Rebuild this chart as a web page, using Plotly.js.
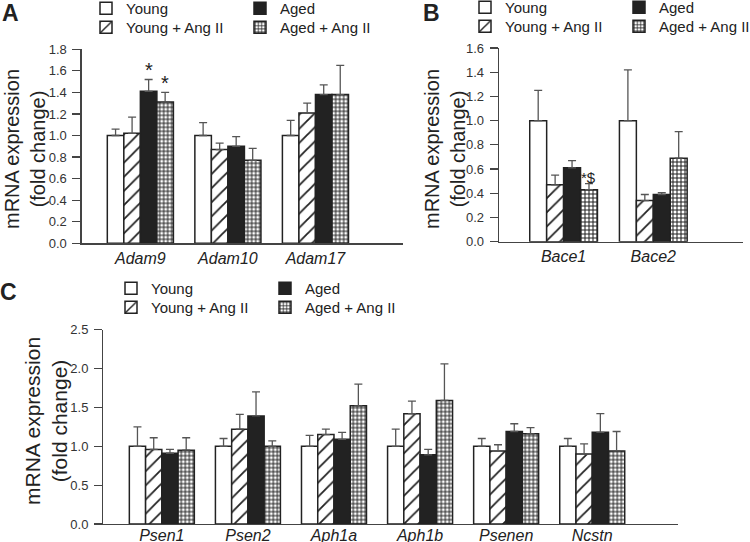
<!DOCTYPE html>
<html>
<head>
<meta charset="utf-8">
<script src="https://cdn.plot.ly/plotly-3.0.1.min.js"></script>
<style>
  html, body { margin: 0; padding: 0; background: #fff; }
  #chart { width: 750px; height: 542px; }
</style>
</head>
<body>
<div id="chart"></div>
<script>
// series names, shared by all three panels
const groups = ['Young', 'Young + Ang II', 'Aged', 'Aged + Ang II'];

// panel A - Adam genes
const adamGenes = ['Adam9', 'Adam10', 'Adam17'];
const adamYoung = [1.00, 1.00, 1.00];
const adamYoungSem = [0.06, 0.12, 0.14];
const adamYoungAng = [1.02, 0.87, 1.21];
const adamYoungAngSem = [0.15, 0.06, 0.09];
const adamAged = [1.41, 0.90, 1.38];
const adamAgedSem = [0.11, 0.09, 0.09];
const adamAgedAng = [1.31, 0.77, 1.38];
const adamAgedAngSem = [0.09, 0.11, 0.27];

// panel B - Bace genes
const baceGenes = ['Bace1', 'Bace2'];
const baceYoung = [1.00, 1.00];
const baceYoungSem = [0.25, 0.42];
const baceYoungAng = [0.47, 0.34];
const baceYoungAngSem = [0.08, 0.05];
const baceAged = [0.61, 0.39];
const baceAgedSem = [0.06, 0.015];
const baceAgedAng = [0.43, 0.69];
const baceAgedAngSem = [0.05, 0.22];

// panel C - gamma secretase genes
const gsGenes = ['Psen1', 'Psen2', 'Aph1a', 'Aph1b', 'Psenen', 'Ncstn'];
const gsYoung = [1.00, 1.00, 1.00, 1.00, 1.00, 1.00];
const gsYoungSem = [0.25, 0.10, 0.14, 0.22, 0.10, 0.10];
const gsYoungAng = [0.96, 1.22, 1.15, 1.42, 0.94, 0.90];
const gsYoungAngSem = [0.15, 0.19, 0.07, 0.16, 0.08, 0.13];
const gsAged = [0.91, 1.39, 1.09, 0.89, 1.19, 1.18];
const gsAgedSem = [0.05, 0.31, 0.09, 0.07, 0.10, 0.24];
const gsAgedAng = [0.95, 1.00, 1.52, 1.59, 1.16, 0.94];
const gsAgedAngSem = [0.16, 0.07, 0.28, 0.47, 0.08, 0.25];

// significance marks: [panel, gene, group index, text]
const marks = [
    ['A', 'Adam9', 2, '*'],
    ['A', 'Adam9', 3, '*'],
    ['B', 'Bace1', 3, '*$']
];

const W = 750, H = 542;
const font = 'Liberation Sans, Arial, sans-serif';
const ink = '#222';
const bargap = 0.245;
const barW = (1 - bargap) / 4;

const styles = [
    { color: 'white' },
    { color: 'white', pattern: { shape: '/', fgcolor: ink, bgcolor: 'white', size: 10, solidity: 0.18 } },
    { color: ink },
    { color: 'white', pattern: { shape: '+', fgcolor: ink, bgcolor: 'white', size: 4, solidity: 0.45 } }
];

// legend rows: row 1 holds Young and Aged, row 2 the Ang II groups
const panels = [
    { key: 'A', genes: adamGenes, xa: 'x', ya: 'y', legends: ['legend', 'legend2'],
      vals: [adamYoung, adamYoungAng, adamAged, adamAgedAng],
      sems: [adamYoungSem, adamYoungAngSem, adamAgedSem, adamAgedAngSem] },
    { key: 'B', genes: baceGenes, xa: 'x2', ya: 'y2', legends: ['legend3', 'legend4'],
      vals: [baceYoung, baceYoungAng, baceAged, baceAgedAng],
      sems: [baceYoungSem, baceYoungAngSem, baceAgedSem, baceAgedAngSem] },
    { key: 'C', genes: gsGenes, xa: 'x3', ya: 'y3', legends: ['legend5', 'legend6'],
      vals: [gsYoung, gsYoungAng, gsAged, gsAgedAng],
      sems: [gsYoungSem, gsYoungAngSem, gsAgedSem, gsAgedAngSem] }
];

const traces = [];
for (const p of panels) {
    groups.forEach((g, i) => {
        traces.push({
            type: 'bar',
            name: g,
            x: p.genes,
            y: p.vals[i],
            xaxis: p.xa,
            yaxis: p.ya,
            legend: p.legends[i % 2],
            marker: Object.assign({ line: { color: ink, width: 1.5 } }, styles[i]),
            error_y: {
                type: 'data',
                array: p.sems[i],
                arrayminus: p.sems[i].map(() => 0),
                symmetric: false,
                color: '#555',
                thickness: 1.3,
                width: 4
            },
            hoverinfo: 'skip'
        });
    });
}

const px = v => v / W;
const py = v => 1 - v / H;

function yAxis(range, dtick, dom, anchor) {
    return {
        domain: dom, anchor: anchor, range: range, dtick: dtick, tickformat: '.1f',
        showgrid: false, zeroline: false, showline: true, linecolor: '#444', linewidth: 1.3,
        ticks: 'outside', ticklen: 8, tickwidth: 1.2, tickcolor: '#444', ticklabelstandoff: 3,
        tickfont: { family: font, size: 13, color: '#333' }, fixedrange: true, automargin: false
    };
}
function xAxis(genes, range, dom, anchor, standoff) {
    return {
        domain: dom, anchor: anchor, range: range, type: 'category',
        categoryorder: 'array', categoryarray: genes,
        showgrid: false, zeroline: false, showline: true, linecolor: '#444', linewidth: 1.3,
        ticks: '', ticklabelstandoff: standoff,
        tickfont: { family: font, size: 16, color: ink, style: 'italic' }, fixedrange: true, automargin: false
    };
}

function legendAt(textLeft, rowMid) {
    return {
        orientation: 'h', x: px(textLeft - 41), y: py(rowMid - 16), xanchor: 'left', yanchor: 'top',
        entrywidth: 109, entrywidthmode: 'pixels',
        bgcolor: 'rgba(0,0,0,0)', traceorder: 'normal',
        font: { family: font, size: 15, color: ink }
    };
}

const annotations = [];
// panel letters
[['A', 10, 13], ['B', 431, 13], ['C', 8, 292]].forEach(([t, x, y]) => {
    annotations.push({ text: '<b>' + t + '</b>', xref: 'paper', yref: 'paper', x: px(x), y: py(y),
        xanchor: 'center', yanchor: 'middle',
        showarrow: false, font: { family: font, size: 23, color: ink } });
});
// y titles
[[25, 149, 20], [445, 149, 20], [46, 421, 21]].forEach(([x, y, s]) => {
    annotations.push({ text: 'mRNA expression<br>(fold change)', xref: 'paper', yref: 'paper',
        x: px(x), y: py(y), xanchor: 'center', yanchor: 'middle', textangle: -90, showarrow: false,
        font: { family: font, size: s, color: ink } });
});
// significance marks above error bars
for (const [k, gene, gi, txt] of marks) {
    const p = panels.find(q => q.key === k);
    const j = p.genes.indexOf(gene);
    annotations.push({
        text: txt, xref: p.xa, yref: p.ya,
        x: j + (gi - 1.5) * barW, y: p.vals[gi][j] + p.sems[gi][j],
        yanchor: 'bottom', yshift: -4, showarrow: false,
        font: { family: font, size: txt === '*' ? 20 : 15, color: ink }
    });
}

const layout = {
    width: W, height: H,
    margin: { l: 0, r: 0, t: 0, b: 0, autoexpand: false },
    paper_bgcolor: 'white', plot_bgcolor: 'white',
    barmode: 'group', bargap: bargap, bargroupgap: 0,
    font: { family: font, color: ink },
    xaxis: xAxis(adamGenes, [-0.67, 3.0], [px(81.7), px(403)], 'y', 0),
    yaxis: yAxis([0, 1.8], 0.2, [py(243.3), py(49.3)], 'x'),
    xaxis2: xAxis(baceGenes, [-0.72, 2.0], [px(499), px(743)], 'y2', 0),
    yaxis2: yAxis([0, 1.6], 0.2, [py(241.7), py(48)], 'x2'),
    xaxis3: xAxis(gsGenes, [-0.68, 6.0], [px(103.3), px(678.3)], 'y3', -4),
    yaxis3: yAxis([0, 2.5], 0.5, [py(524), py(329.7)], 'x3'),
    legend: legendAt(127, 8),
    legend2: legendAt(127, 27),
    legend3: legendAt(506, 7),
    legend4: legendAt(506, 26),
    legend5: legendAt(152, 288),
    legend6: legendAt(152, 307),
    annotations: annotations,
    showlegend: true
};

Plotly.newPlot('chart', traces, layout, { displayModeBar: false, staticPlot: true });
</script>
</body>
</html>
